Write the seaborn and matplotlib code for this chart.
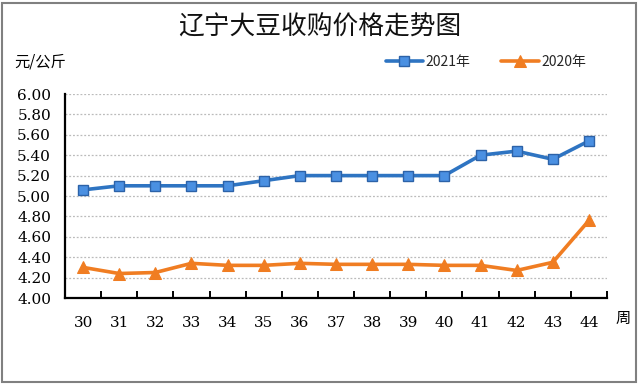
import numpy as np
import pandas as pd
import seaborn as sns
import matplotlib
matplotlib.use('Agg')
import matplotlib.pyplot as plt
from matplotlib.patches import Rectangle

weeks = [30, 31, 32, 33, 34, 35, 36, 37, 38, 39, 40, 41, 42, 43, 44]
price_2021 = [5.06, 5.10, 5.10, 5.10, 5.10, 5.15, 5.20, 5.20, 5.20, 5.20, 5.20, 5.40, 5.44, 5.36, 5.54]
price_2020 = [4.30, 4.24, 4.25, 4.34, 4.32, 4.32, 4.34, 4.33, 4.33, 4.33, 4.32, 4.32, 4.27, 4.35, 4.76]
y_ticks = [4.00, 4.20, 4.40, 4.60, 4.80, 5.00, 5.20, 5.40, 5.60, 5.80, 6.00]

sns.set_theme(style='white')
plt.rcParams['font.family'] = ['Noto Sans CJK SC', 'DejaVu Sans']

fig = plt.figure(figsize=(6.4, 3.85), dpi=100)
ax = fig.add_axes([65 / 640, 1 - 298 / 385, 542 / 640, 204 / 385])

df = pd.DataFrame({'week': weeks, '2021年': price_2021, '2020年': price_2020})

# the two price lines
sns.lineplot(data=df, x='week', y='2021年', ax=ax, color='#2E74C2', lw=2.6,
             marker='s', markersize=7, markerfacecolor='#4A90E2',
             markeredgecolor='#2C62A8', markeredgewidth=1.0, label='2021年')
sns.lineplot(data=df, x='week', y='2020年', ax=ax, color='#F07D22', lw=2.6,
             marker='^', markersize=8, markerfacecolor='#F07D22',
             markeredgecolor='#F07D22', label='2020年')

ax.set_xlim(29.5, 44.5)
ax.set_ylim(4.0, 6.0)
ax.set_xlabel('')
ax.set_ylabel('')

# grid
ax.set_yticks(y_ticks)
ax.set_yticklabels(['%.2f' % v for v in y_ticks])
ax.yaxis.grid(True, color='#BBBBBB', linestyle=(0, (1.5, 1.5)), lw=0.9)
ax.set_axisbelow(True)

# category labels, tick marks between categories
ax.set_xticks(weeks)
ax.set_xticklabels([str(w) for w in weeks])
ax.set_xticks(np.arange(30.5, 45, 1), minor=True)
ax.tick_params(axis='x', which='major', length=0, pad=13)
ax.tick_params(axis='x', which='minor', direction='in', length=5,
               width=1.4, color='black', bottom=True)
ax.tick_params(axis='y', length=0, pad=10)
for lab in ax.get_xticklabels() + ax.get_yticklabels():
    lab.set_family('DejaVu Serif')
    lab.set_fontsize(11)
    lab.set_color('black')

for s in ['top', 'right']:
    ax.spines[s].set_visible(False)
for s in ['left', 'bottom']:
    ax.spines[s].set_color('black')
    ax.spines[s].set_linewidth(1.6)

handles, labels = ax.get_legend_handles_labels()
ax.legend(handles, labels, loc='center', bbox_to_anchor=(486 / 640, 1 - 62 / 385),
          bbox_transform=fig.transFigure, ncol=2, frameon=False, fontsize=10,
          handlelength=2.7, handletextpad=0.2, columnspacing=2.2)

fig.text(0.5, 1 - 28 / 385, '辽宁大豆收购价格走势图', ha='center', va='center',
         fontsize=18.5, color='#111111')
fig.text(14 / 640, 1 - 62 / 385, '元/公斤', ha='left', va='center',
         fontsize=11, color='black')
fig.text(623 / 640, 1 - 318 / 385, '周', ha='center', va='center',
         fontsize=11, color='black')

# outer frame
fig.patches.append(Rectangle((2 / 640, 3 / 385), 634 / 640, 379 / 385,
                             transform=fig.transFigure, fill=False,
                             edgecolor='#808080', lw=1.5))

fig.savefig('out.png', dpi=100)
